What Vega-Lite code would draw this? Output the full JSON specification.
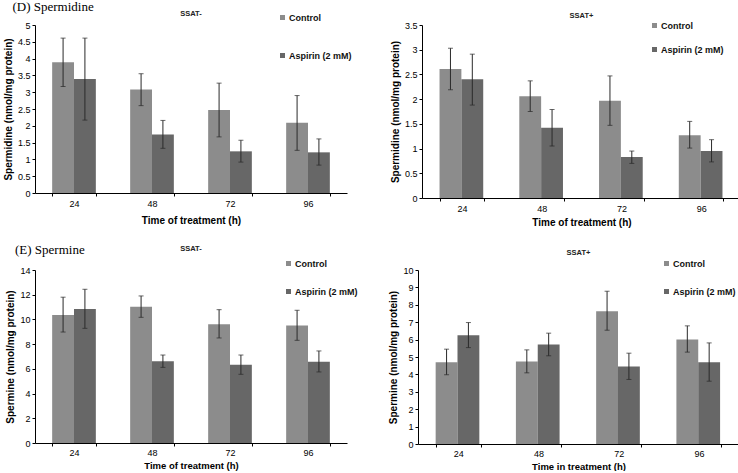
{
  "$schema": "https://vega.github.io/schema/vega-lite/v6.json",
  "background": "white",
  "padding": {"left": 3, "top": 0, "right": 0, "bottom": 0},
  "datasets": {
    "dL": [
      {"time": "24", "group": "Control", "mean": 3.89, "lo": 3.17, "hi": 4.61},
      {"time": "24", "group": "Aspirin (2 mM)", "mean": 3.39, "lo": 2.17, "hi": 4.61},
      {"time": "48", "group": "Control", "mean": 3.08, "lo": 2.60, "hi": 3.55},
      {"time": "48", "group": "Aspirin (2 mM)", "mean": 1.74, "lo": 1.33, "hi": 2.16},
      {"time": "72", "group": "Control", "mean": 2.47, "lo": 1.67, "hi": 3.27},
      {"time": "72", "group": "Aspirin (2 mM)", "mean": 1.24, "lo": 0.92, "hi": 1.57},
      {"time": "96", "group": "Control", "mean": 2.09, "lo": 1.27, "hi": 2.90},
      {"time": "96", "group": "Aspirin (2 mM)", "mean": 1.21, "lo": 0.83, "hi": 1.61}
    ],
    "dR": [
      {"time": "24", "group": "Control", "mean": 2.61, "lo": 2.19, "hi": 3.03},
      {"time": "24", "group": "Aspirin (2 mM)", "mean": 2.40, "lo": 1.88, "hi": 2.91},
      {"time": "48", "group": "Control", "mean": 2.06, "lo": 1.75, "hi": 2.37},
      {"time": "48", "group": "Aspirin (2 mM)", "mean": 1.42, "lo": 1.05, "hi": 1.79},
      {"time": "72", "group": "Control", "mean": 1.97, "lo": 1.47, "hi": 2.47},
      {"time": "72", "group": "Aspirin (2 mM)", "mean": 0.83, "lo": 0.70, "hi": 0.95},
      {"time": "96", "group": "Control", "mean": 1.27, "lo": 1.01, "hi": 1.55},
      {"time": "96", "group": "Aspirin (2 mM)", "mean": 0.95, "lo": 0.73, "hi": 1.18}
    ],
    "eL": [
      {"time": "24", "group": "Control", "mean": 10.36, "lo": 8.98, "hi": 11.8},
      {"time": "24", "group": "Aspirin (2 mM)", "mean": 10.84, "lo": 9.28, "hi": 12.44},
      {"time": "48", "group": "Control", "mean": 11.03, "lo": 10.17, "hi": 11.9},
      {"time": "48", "group": "Aspirin (2 mM)", "mean": 6.61, "lo": 6.12, "hi": 7.12},
      {"time": "72", "group": "Control", "mean": 9.6, "lo": 8.5, "hi": 10.79},
      {"time": "72", "group": "Aspirin (2 mM)", "mean": 6.34, "lo": 5.56, "hi": 7.12},
      {"time": "96", "group": "Control", "mean": 9.5, "lo": 8.31, "hi": 10.74},
      {"time": "96", "group": "Aspirin (2 mM)", "mean": 6.58, "lo": 5.75, "hi": 7.45}
    ],
    "eR": [
      {"time": "24", "group": "Control", "mean": 4.70, "lo": 3.98, "hi": 5.45},
      {"time": "24", "group": "Aspirin (2 mM)", "mean": 6.25, "lo": 5.54, "hi": 6.98},
      {"time": "48", "group": "Control", "mean": 4.74, "lo": 4.09, "hi": 5.41},
      {"time": "48", "group": "Aspirin (2 mM)", "mean": 5.72, "lo": 5.07, "hi": 6.37},
      {"time": "72", "group": "Control", "mean": 7.63, "lo": 6.54, "hi": 8.78},
      {"time": "72", "group": "Aspirin (2 mM)", "mean": 4.46, "lo": 3.71, "hi": 5.22},
      {"time": "96", "group": "Control", "mean": 6.0, "lo": 5.28, "hi": 6.79},
      {"time": "96", "group": "Aspirin (2 mM)", "mean": 4.70, "lo": 3.61, "hi": 5.81}
    ]
  },
  "resolve": {"scale": {"color": "independent"}, "legend": {"color": "independent"}},
  "spacing": 16,
  "vconcat": [
    {
      "title": {"text": "(D) Spermidine", "anchor": "start", "font": "Liberation Serif", "fontSize": 13, "fontWeight": "normal", "color": "#000", "dx": 9, "offset": -4},
      "resolve": {"scale": {"color": "independent"}, "legend": {"color": "independent"}},
      "spacing": 38,
      "hconcat": [
        {
          "width": 312, "height": 168,
          "title": {"text": "SSAT-", "fontSize": 7.5, "font": "Liberation Sans", "fontWeight": "bold", "color": "#222", "offset": -4},
          "data": {"name": "dL"},
          "encoding": {
            "x": {"field": "time", "type": "ordinal", "title": "Time of treatment (h)", "scale": {"paddingInner": 0.44, "paddingOuter": 0.22}, "axis": {"labelAngle": 0, "tickBand": "extent", "tickSize": 3, "labelPadding": 3, "titlePadding": 7}},
            "xOffset": {"field": "group", "type": "nominal", "sort": ["Control", "Aspirin (2 mM)"]}
          },
          "layer": [
            {"mark": {"type": "bar"}, "encoding": {
              "y": {"field": "mean", "type": "quantitative", "title": "Spermidine (nmol/mg protein)", "scale": {"domain": [0, 5]}, "axis": {"values": [0, 0.5, 1, 1.5, 2, 2.5, 3, 3.5, 4, 4.5, 5], "format": "~r", "tickSize": 3}},
              "color": {"field": "group", "type": "nominal", "sort": ["Control", "Aspirin (2 mM)"], "scale": {"domain": ["Control", "Aspirin (2 mM)"], "range": ["#8c8c8c", "#676767"]},
                "legend": {"orient": "none", "legendX": 243, "legendY": -12, "title": null, "rowPadding": 28}}
            }},
            {"mark": {"type": "rule", "color": "#2a2a2a", "strokeWidth": 1}, "encoding": {"y": {"field": "lo", "type": "quantitative", "title": "Spermidine (nmol/mg protein)", "scale": {"domain": [0, 5]}, "axis": {"values": [0, 0.5, 1, 1.5, 2, 2.5, 3, 3.5, 4, 4.5, 5], "format": "~r", "tickSize": 3}}, "y2": {"field": "hi"}}},
            {"mark": {"type": "tick", "color": "#2a2a2a", "thickness": 1, "size": 5}, "encoding": {"y": {"field": "hi", "type": "quantitative", "title": "Spermidine (nmol/mg protein)", "scale": {"domain": [0, 5]}, "axis": {"values": [0, 0.5, 1, 1.5, 2, 2.5, 3, 3.5, 4, 4.5, 5], "format": "~r", "tickSize": 3}}}},
            {"mark": {"type": "tick", "color": "#2a2a2a", "thickness": 1, "size": 5}, "encoding": {"y": {"field": "lo", "type": "quantitative", "title": "Spermidine (nmol/mg protein)", "scale": {"domain": [0, 5]}, "axis": {"values": [0, 0.5, 1, 1.5, 2, 2.5, 3, 3.5, 4, 4.5, 5], "format": "~r", "tickSize": 3}}}}
          ]
        },
        {
          "width": 319, "height": 173,
          "title": {"text": "SSAT+", "fontSize": 7.5, "font": "Liberation Sans", "fontWeight": "bold", "color": "#222", "offset": 2},
          "data": {"name": "dR"},
          "encoding": {
            "x": {"field": "time", "type": "ordinal", "title": "Time of treatment (h)", "scale": {"paddingInner": 0.44, "paddingOuter": 0.22}, "axis": {"labelAngle": 0, "tickBand": "extent", "tickSize": 3, "labelPadding": 3, "titlePadding": 4}},
            "xOffset": {"field": "group", "type": "nominal", "sort": ["Control", "Aspirin (2 mM)"]}
          },
          "layer": [
            {"mark": {"type": "bar"}, "encoding": {
              "y": {"field": "mean", "type": "quantitative", "title": "Spermidine (nmol/mg protein)", "scale": {"domain": [0, 3.5]}, "axis": {"values": [0, 0.5, 1, 1.5, 2, 2.5, 3, 3.5], "format": "~r", "tickSize": 3}},
              "color": {"field": "group", "type": "nominal", "sort": ["Control", "Aspirin (2 mM)"], "scale": {"domain": ["Control", "Aspirin (2 mM)"], "range": ["#8c8c8c", "#676767"]},
                "legend": {"orient": "none", "legendX": 228, "legendY": -4, "title": null, "rowPadding": 14}}
            }},
            {"mark": {"type": "rule", "color": "#2a2a2a", "strokeWidth": 1}, "encoding": {"y": {"field": "lo", "type": "quantitative", "title": "Spermidine (nmol/mg protein)", "scale": {"domain": [0, 3.5]}, "axis": {"values": [0, 0.5, 1, 1.5, 2, 2.5, 3, 3.5], "format": "~r", "tickSize": 3}}, "y2": {"field": "hi"}}},
            {"mark": {"type": "tick", "color": "#2a2a2a", "thickness": 1, "size": 5}, "encoding": {"y": {"field": "hi", "type": "quantitative", "title": "Spermidine (nmol/mg protein)", "scale": {"domain": [0, 3.5]}, "axis": {"values": [0, 0.5, 1, 1.5, 2, 2.5, 3, 3.5], "format": "~r", "tickSize": 3}}}},
            {"mark": {"type": "tick", "color": "#2a2a2a", "thickness": 1, "size": 5}, "encoding": {"y": {"field": "lo", "type": "quantitative", "title": "Spermidine (nmol/mg protein)", "scale": {"domain": [0, 3.5]}, "axis": {"values": [0, 0.5, 1, 1.5, 2, 2.5, 3, 3.5], "format": "~r", "tickSize": 3}}}}
          ]
        }
      ]
    },
    {
      "title": {"text": "(E) Spermine", "anchor": "start", "font": "Liberation Serif", "fontSize": 13, "fontWeight": "normal", "color": "#000", "dx": 9, "offset": -12},
      "resolve": {"scale": {"color": "independent"}, "legend": {"color": "independent"}},
      "spacing": 30,
      "hconcat": [
        {
          "width": 312, "height": 173,
          "title": {"text": "SSAT-", "fontSize": 7.5, "font": "Liberation Sans", "fontWeight": "bold", "color": "#222", "offset": 7},
          "data": {"name": "eL"},
          "encoding": {
            "x": {"field": "time", "type": "ordinal", "title": "Time of treatment (h)", "scale": {"paddingInner": 0.44, "paddingOuter": 0.22}, "axis": {"labelAngle": 0, "tickBand": "extent", "tickSize": 3, "labelPadding": 2, "titlePadding": 3, "titleFontSize": 9.5}},
            "xOffset": {"field": "group", "type": "nominal", "sort": ["Control", "Aspirin (2 mM)"]}
          },
          "layer": [
            {"mark": {"type": "bar"}, "encoding": {
              "y": {"field": "mean", "type": "quantitative", "title": "Spermine (nmol/mg protein)", "scale": {"domain": [0, 14]}, "axis": {"values": [0, 2, 4, 6, 8, 10, 12, 14], "format": "~r", "tickSize": 3}},
              "color": {"field": "group", "type": "nominal", "sort": ["Control", "Aspirin (2 mM)"], "scale": {"domain": ["Control", "Aspirin (2 mM)"], "range": ["#8c8c8c", "#676767"]},
                "legend": {"orient": "none", "legendX": 249, "legendY": -11, "title": null, "rowPadding": 18}}
            }},
            {"mark": {"type": "rule", "color": "#2a2a2a", "strokeWidth": 1}, "encoding": {"y": {"field": "lo", "type": "quantitative", "title": "Spermine (nmol/mg protein)", "scale": {"domain": [0, 14]}, "axis": {"values": [0, 2, 4, 6, 8, 10, 12, 14], "format": "~r", "tickSize": 3}}, "y2": {"field": "hi"}}},
            {"mark": {"type": "tick", "color": "#2a2a2a", "thickness": 1, "size": 5}, "encoding": {"y": {"field": "hi", "type": "quantitative", "title": "Spermine (nmol/mg protein)", "scale": {"domain": [0, 14]}, "axis": {"values": [0, 2, 4, 6, 8, 10, 12, 14], "format": "~r", "tickSize": 3}}}},
            {"mark": {"type": "tick", "color": "#2a2a2a", "thickness": 1, "size": 5}, "encoding": {"y": {"field": "lo", "type": "quantitative", "title": "Spermine (nmol/mg protein)", "scale": {"domain": [0, 14]}, "axis": {"values": [0, 2, 4, 6, 8, 10, 12, 14], "format": "~r", "tickSize": 3}}}}
          ]
        },
        {
          "width": 321, "height": 174,
          "title": {"text": "SSAT+", "fontSize": 7.5, "font": "Liberation Sans", "fontWeight": "bold", "color": "#222", "offset": 3},
          "data": {"name": "eR"},
          "encoding": {
            "x": {"field": "time", "type": "ordinal", "title": "Time in treatment (h)", "scale": {"paddingInner": 0.44, "paddingOuter": 0.22}, "axis": {"labelAngle": 0, "tickBand": "extent", "tickSize": 3, "labelPadding": 2, "titlePadding": 3, "titleFontSize": 9.5}},
            "xOffset": {"field": "group", "type": "nominal", "sort": ["Control", "Aspirin (2 mM)"]}
          },
          "layer": [
            {"mark": {"type": "bar"}, "encoding": {
              "y": {"field": "mean", "type": "quantitative", "title": "Spermine (nmol/mg protein)", "scale": {"domain": [0, 10]}, "axis": {"values": [0, 1, 2, 3, 4, 5, 6, 7, 8, 9, 10], "format": "~r", "tickSize": 3}},
              "color": {"field": "group", "type": "nominal", "sort": ["Control", "Aspirin (2 mM)"], "scale": {"domain": ["Control", "Aspirin (2 mM)"], "range": ["#8c8c8c", "#676767"]},
                "legend": {"orient": "none", "legendX": 244, "legendY": -11, "title": null, "rowPadding": 18}}
            }},
            {"mark": {"type": "rule", "color": "#2a2a2a", "strokeWidth": 1}, "encoding": {"y": {"field": "lo", "type": "quantitative", "title": "Spermine (nmol/mg protein)", "scale": {"domain": [0, 10]}, "axis": {"values": [0, 1, 2, 3, 4, 5, 6, 7, 8, 9, 10], "format": "~r", "tickSize": 3}}, "y2": {"field": "hi"}}},
            {"mark": {"type": "tick", "color": "#2a2a2a", "thickness": 1, "size": 5}, "encoding": {"y": {"field": "hi", "type": "quantitative", "title": "Spermine (nmol/mg protein)", "scale": {"domain": [0, 10]}, "axis": {"values": [0, 1, 2, 3, 4, 5, 6, 7, 8, 9, 10], "format": "~r", "tickSize": 3}}}},
            {"mark": {"type": "tick", "color": "#2a2a2a", "thickness": 1, "size": 5}, "encoding": {"y": {"field": "lo", "type": "quantitative", "title": "Spermine (nmol/mg protein)", "scale": {"domain": [0, 10]}, "axis": {"values": [0, 1, 2, 3, 4, 5, 6, 7, 8, 9, 10], "format": "~r", "tickSize": 3}}}}
          ]
        }
      ]
    }
  ],
  "config": {
    "view": {"stroke": null},
    "font": "Liberation Sans",
    "axis": {"labelFont": "Liberation Sans", "labelFontSize": 9, "labelColor": "#000", "titleFont": "Liberation Sans", "titleFontSize": 10, "titleFontWeight": "bold", "titleColor": "#000", "domainColor": "#000", "tickColor": "#000", "grid": false},
    "legend": {"symbolType": "square", "symbolSize": 25, "labelFont": "Liberation Sans", "labelFontSize": 9, "labelFontWeight": "bold", "labelColor": "#111", "labelOffset": 2, "padding": 0, "symbolStrokeWidth": 0}
  }
}
